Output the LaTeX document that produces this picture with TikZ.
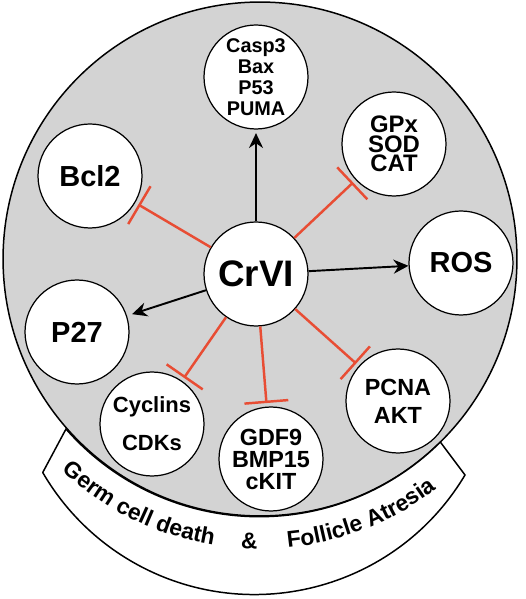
\documentclass[tikz,border=0pt]{standalone}
\usepackage{fontspec}
\setmainfont{Liberation Sans}
\usetikzlibrary{arrows.meta,decorations.text}
\definecolor{fondo}{RGB}{211,211,211}
\definecolor{rosso}{RGB}{232,77,52}
\newcommand{\testobanda}{\fontsize{13}{15}\selectfont\bfseries}
\tikzset{
    bolla/.style={circle,draw,fill=white,line width=0.7pt,minimum size=2.08cm,inner sep=0pt,align=center},
    grande/.style={font=\fontsize{16.5}{18}\selectfont\bfseries},
    attiva/.style={->,>={Stealth[length=8.5pt,width=8pt]},line width=1.1pt},
    inibisce/.style={-{Bar[width=25pt]},draw=rosso,line width=1.4pt,shorten >=2pt}
}
\begin{document}
\begin{tikzpicture}[x=0.02cm,y=0.02cm]
        \useasboundingbox (0,0) rectangle (525,599);

        %%%%%%%%%% Sfondo %%%%%%%%%%
        \draw[fill=fondo,line width=0.85pt] (260,340) circle[radius=5.14cm];
        \draw[fill=white,line width=0.85pt] (43,127) -- (66,170)
            arc[start angle=221.2,end angle=314.8,radius=5.14cm] -- (465,124)
            arc[start angle=329.2,end angle=210.2,radius=4.9cm] -- cycle;

        %%%%%%%%%% Nodi %%%%%%%%%%
        \node[bolla,font=\fontsize{21}{22}\selectfont\bfseries] (crvi) at (256,325) {CrVI};
        \node[bolla,font=\fontsize{11.3}{11.9}\selectfont\bfseries] (casp) at (256,522) {Casp3\\Bax\\P53\\PUMA};
        \node[bolla,font=\fontsize{13.6}{11.2}\selectfont\bfseries] (gpx) at (394,455) {GPx\\SOD\\CAT};
        \node[bolla,grande] (bcl) at (90,423) {Bcl2};
        \node[bolla,grande] (ros) at (461,336) {ROS};
        \node[bolla,grande] (p27) at (77,267) {P27};
        \node[bolla,font=\fontsize{12.5}{21.5}\selectfont\bfseries] (cyc) at (152,175) {Cyclins\\CDKs};
        \node[bolla,font=\fontsize{13.3}{12.5}\selectfont\bfseries] (gdf) at (271,140) {GDF9\\BMP15\\cKIT};
        \node[bolla,font=\fontsize{13.3}{16}\selectfont\bfseries] (pcna) at (398,198) {PCNA\\AKT};

        %%%%%%%%% Frecce %%%%%%%%%
        \draw[attiva,shorten >=2pt] (crvi) -- (casp);
        \draw[attiva] (crvi) -- (ros);
        \draw[attiva,shorten >=3pt] (crvi) -- (p27);
        \draw[inibisce] (crvi) -- (bcl);
        \draw[inibisce] (crvi) -- (gpx);
        \draw[inibisce] (crvi) -- (cyc);
        \draw[inibisce] (crvi) -- (gdf);
        \draw[inibisce] (crvi) -- (pcna);

        %%%%%%%%% Testo %%%%%%%%%
        \path[decorate,decoration={text along path,text={|\testobanda|Germ cell death},text align=left}]
            (260,340) ++(226.9:5.8cm) arc[start angle=226.9,end angle=266,radius=5.8cm];
        \node[font=\testobanda,anchor=base,rotate=-2.2,inner sep=0pt] (amp) at (249,50) {\&};
        \path[decorate,decoration={text along path,text={|\testobanda|Follicle Atresia},text align=left}]
            (260,340) ++(275.5:5.8cm) arc[start angle=275.5,end angle=320,radius=5.8cm];
    \end{tikzpicture}
\end{document}
